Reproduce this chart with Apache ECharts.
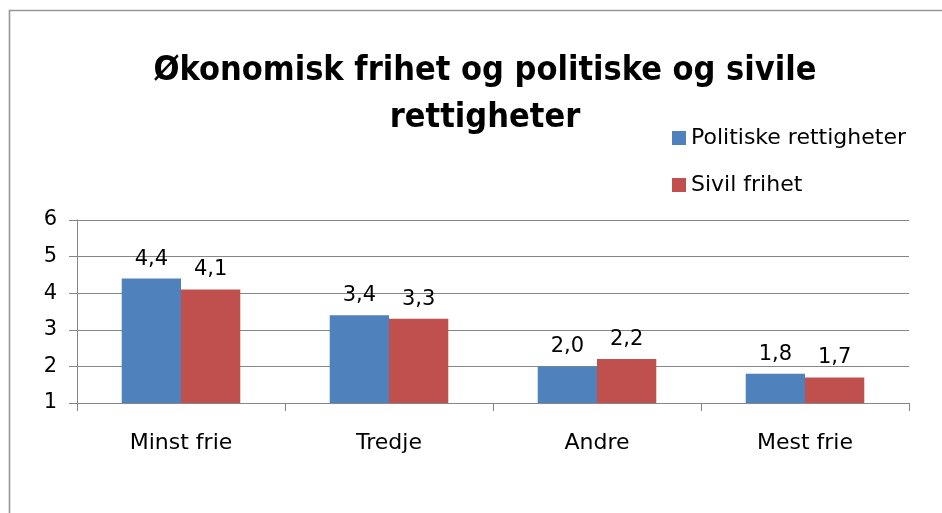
<!DOCTYPE html>
<html>
<head>
<meta charset="utf-8">
<script src="https://cdn.jsdelivr.net/npm/echarts@6/dist/echarts.min.js"></script>
<style>
	html, body { margin: 0; padding: 0; background: #fff; }
	#main { width: 942px; height: 513px; }
</style>
</head>
<body>
<div id="main"></div>
<script>
	// data
	var categories = ['Minst frie', 'Tredje', 'Andre', 'Mest frie'];
	var politiske = [4.4, 3.4, 2.0, 1.8];
	var sivil = [4.1, 3.3, 2.2, 1.7];
	var seriesNames = ['Politiske rettigheter', 'Sivil frihet'];

	var labelFont = 'DejaVu Sans';

	function fmt(p) {
		return p.value.toFixed(1).replace('.', ',');
	}

	var myChart = echarts.init(document.getElementById('main'));
	var option = {
		animation: false,
		backgroundColor: '#fff',
		title: {
			text: 'Økonomisk frihet og politiske og sivile\nrettigheter',
			left: 480,
			top: 43,
			textAlign: 'center',
			textStyle: {
				fontFamily: '"Liberation Sans Narrow", "DejaVu Sans Condensed", sans-serif',
				fontWeight: 'bold',
				fontSize: 34,
				lineHeight: 47,
				color: '#000'
			}
		},
		legend: {
			orient: 'vertical',
			left: 667,
			top: 122,
			itemWidth: 14,
			itemHeight: 14,
			itemGap: 25,
			icon: 'rect',
			data: seriesNames,
			textStyle: { fontFamily: labelFont, fontSize: 22, color: '#000' }
		},
		graphic: [{
			type: 'rect',
			shape: { x: 9.5, y: 10.5, width: 1000, height: 600 },
			style: { fill: 'none', stroke: '#969696', lineWidth: 1.6 },
			silent: true
		}],
		grid: { left: 77, right: 33, top: 220, bottom: 110 },
		xAxis: {
			type: 'category',
			data: categories,
			axisLine: { lineStyle: { color: '#868686', width: 1 } },
			axisTick: { show: true, length: 8, lineStyle: { color: '#868686' } },
			axisLabel: { margin: 29, fontFamily: labelFont, fontSize: 22, color: '#000' }
		},
		yAxis: {
			type: 'value',
			min: 1,
			max: 6,
			interval: 1,
			axisLine: { show: true, lineStyle: { color: '#868686', width: 1 } },
			axisTick: { show: true, length: 8, lineStyle: { color: '#868686' } },
			splitLine: { lineStyle: { color: '#868686', width: 1 } },
			axisLabel: { margin: 20, fontFamily: labelFont, fontSize: 21, color: '#000' }
		},
		series: [{
			name: seriesNames[0],
			type: 'bar',
			data: politiske,
			barGap: '0%',
			barCategoryGap: '43%',
			itemStyle: { color: '#4F81BD' },
			label: { show: true, position: 'top', distance: 9, formatter: fmt, fontFamily: labelFont, fontSize: 21, color: '#000' }
		}, {
			name: seriesNames[1],
			type: 'bar',
			data: sivil,
			barGap: '0%',
			barCategoryGap: '43%',
			itemStyle: { color: '#C0504D' },
			label: { show: true, position: 'top', distance: 9, formatter: fmt, fontFamily: labelFont, fontSize: 21, color: '#000' }
		}]
	};
	myChart.setOption(option);
</script>
</body>
</html>
